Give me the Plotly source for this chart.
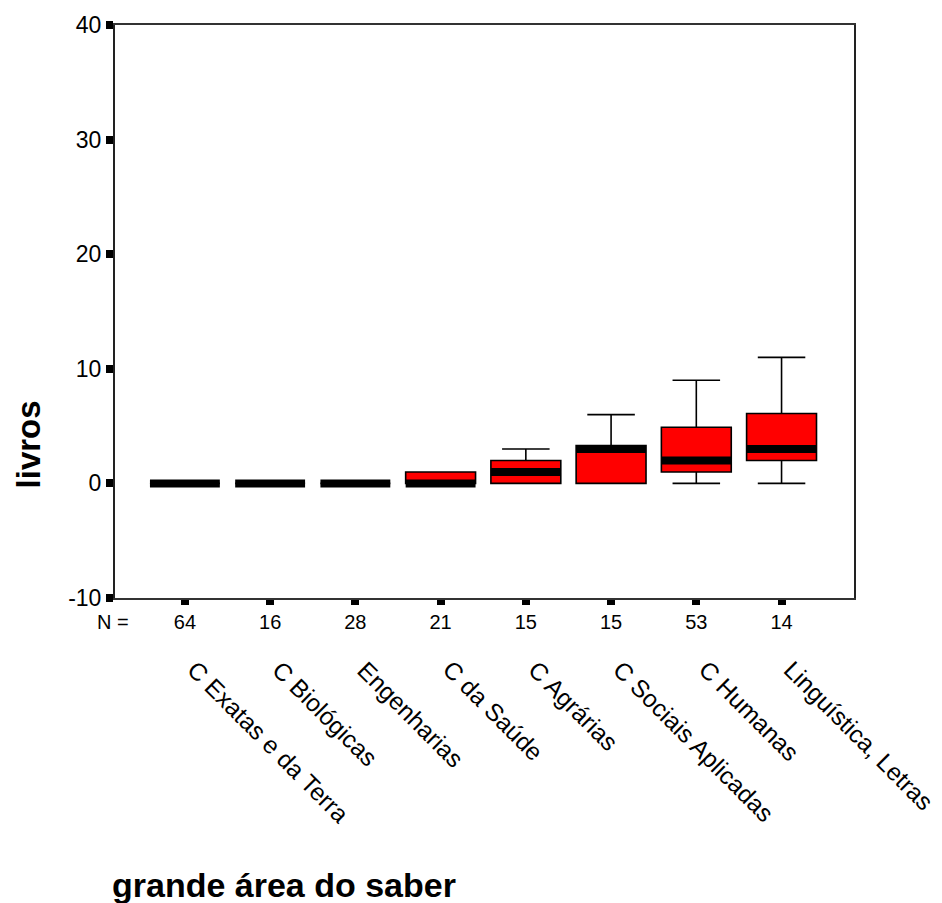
import plotly.graph_objects as go

# Box-plot summary of "livros" per grande área do saber
areas = ["C Exatas e da Terra", "C Biológicas", "Engenharias", "C da Saúde",
         "C Agrárias", "C Sociais Aplicadas", "C Humanas", "Linguística, Letras"]
n_counts = [64, 16, 28, 21, 15, 15, 53, 14]
q1 = [0, 0, 0, 0, 0, 0, 1, 2]
median = [0, 0, 0, 0, 1, 3, 2, 3]
q3 = [0, 0, 0, 1, 2, 3.3, 4.9, 6.1]
lower_whisker = [0, 0, 0, 0, 0, 0, 0, 0]
upper_whisker = [0, 0, 0, 1, 3, 6, 9, 11]

y_ticks = [-10, 0, 10, 20, 30, 40]

BOX_W = 0.82
FONT = "Liberation Sans, Arial, sans-serif"
positions = list(range(len(areas)))

fig = go.Figure()

for i in positions:
    fig.add_trace(go.Box(
        x=[i], q1=[q1[i]], median=[median[i]], q3=[q3[i]],
        lowerfence=[lower_whisker[i]], upperfence=[upper_whisker[i]],
        width=BOX_W, whiskerwidth=0.68, boxpoints=False,
        fillcolor="#ff0000", line=dict(color="black", width=1.6),
        showlegend=False, hoverinfo="skip",
    ))

# thick median bars drawn across each box
mx, my = [], []
for i in positions:
    mx += [i - BOX_W / 2, i + BOX_W / 2, None]
    my += [median[i], median[i], None]
fig.add_trace(go.Scatter(x=mx, y=my, mode="lines",
                         line=dict(color="black", width=8),
                         showlegend=False, hoverinfo="skip"))

# rotated category names below the N row
for i, name in zip(positions, areas):
    fig.add_annotation(x=i, y=0, xref="x", yref="paper", yshift=-55, xshift=-6,
                       text=name, textangle=45, showarrow=False,
                       xanchor="left", yanchor="top",
                       font=dict(family=FONT, size=24.5, color="black"))

fig.add_annotation(x=0, y=0, xref="paper", yref="paper", xshift=-2, yshift=-24,
                   text="N =", showarrow=False, xanchor="center",
                   yanchor="middle",
                   font=dict(family=FONT, size=20, color="black"))

fig.add_annotation(x=0, y=0, xref="paper", yref="paper", xshift=-5, yshift=-308,
                   text="<b>grande área do saber</b>", showarrow=False,
                   xanchor="left", yanchor="bottom",
                   font=dict(family=FONT, size=34, color="black"))

fig.add_annotation(x=0, y=0.268, xref="paper", yref="paper", xshift=-87,
                   text="<b>livros</b>", textangle=-90, showarrow=False,
                   xanchor="center", yanchor="middle",
                   font=dict(family=FONT, size=33, color="black"))

fig.update_layout(
    width=942, height=903,
    margin=dict(l=115, r=88, t=25, b=305),
    paper_bgcolor="white", plot_bgcolor="white",
    font=dict(family=FONT, color="black"),
)

fig.update_xaxes(
    range=[-0.82, 7.85], tickmode="array", tickvals=positions,
    ticktext=[str(n) for n in n_counts],
    tickfont=dict(size=20), ticks="outside", ticklen=5, tickwidth=8,
    tickcolor="black", showgrid=False, zeroline=False,
    showline=True, linecolor="#333333", linewidth=2, mirror=True,
)

fig.update_yaxes(
    range=[-10, 40], tickmode="array", tickvals=y_ticks,
    ticktext=[str(v) for v in y_ticks],
    tickfont=dict(size=23), ticks="outside", ticklen=7, tickwidth=8,
    tickcolor="black", showgrid=False, zeroline=False,
    showline=True, linecolor="#222222", linewidth=2, mirror=True,
)

fig.write_html("out.html")
